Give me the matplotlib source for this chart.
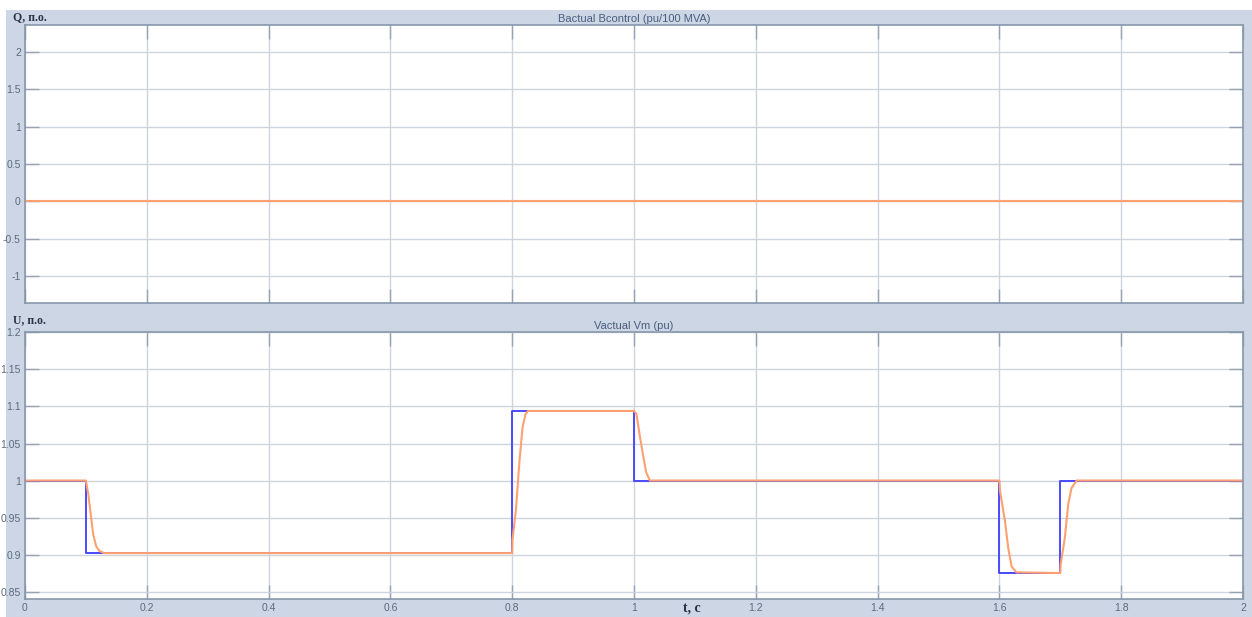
import matplotlib
matplotlib.use("Agg")
import matplotlib.pyplot as plt
from matplotlib.patches import Rectangle

# reference (blue) and measured (orange) signals
t_ref = [0.0, 0.1, 0.1, 0.8, 0.8, 1.0, 1.0, 1.6, 1.6, 1.7, 1.7, 2.0]
v_ref = [1.0, 1.0, 0.902, 0.902, 1.094, 1.094, 1.0, 1.0, 0.875, 0.875, 1.0, 1.0]

t_meas = [0.0, 0.100, 0.104, 0.108, 0.112, 0.117, 0.122, 0.130,
          0.800, 0.8005, 0.806, 0.812, 0.817, 0.822, 0.826, 0.830,
          1.000, 1.004, 1.009, 1.0145, 1.020, 1.026, 1.030,
          1.600, 1.601, 1.609, 1.6145, 1.620, 1.628,
          1.700, 1.7005, 1.7075, 1.713, 1.7185, 1.727, 2.0]
v_meas = [1.0, 1.0, 0.981, 0.954, 0.927, 0.911, 0.905, 0.902,
          0.902, 0.920, 0.959, 1.027, 1.072, 1.090, 1.094, 1.094,
          1.094, 1.090, 1.063, 1.036, 1.011, 1.0, 1.0,
          1.0, 0.986, 0.946, 0.909, 0.884, 0.876,
          0.875, 0.886, 0.923, 0.968, 0.990, 1.0, 1.0]

t_q = [0.0, 2.0]
b_actual = [0.0, 0.0]
b_control = [0.0, 0.0]

x_ticks = [0, 0.2, 0.4, 0.6, 0.8, 1, 1.2, 1.4, 1.6, 1.8, 2]
x_labels = ["0", "0.2", "0.4", "0.6", "0.8", "1", "1.2", "1.4", "1.6", "1.8", "2"]
q_ticks = [-1, -0.5, 0, 0.5, 1, 1.5, 2]
q_labels = ["-1", "-0.5", "0", "0.5", "1", "1.5", "2"]
u_ticks = [0.85, 0.9, 0.95, 1, 1.05, 1.1, 1.15, 1.2]
u_labels = ["0.85", "0.9", "0.95", "1", "1.05", "1.1", "1.15", "1.2"]

BLUE = "#4a4aff"
ORANGE = "#ffa070"
BG = "#cdd6e4"
GRID = "#cdd4df"
SPINE = "#8797ab"
TXT = "#5c6b80"
sans = ["Liberation Sans", "DejaVu Sans"]
serif = ["Liberation Serif", "DejaVu Serif"]

fig = plt.figure(figsize=(12.52, 6.17), dpi=100, facecolor=BG)
W, H = 1252, 617
# white margins on top and left
fig.patches.append(Rectangle((0, 1 - 10 / H), 1, 10 / H, transform=fig.transFigure,
                             facecolor="white", edgecolor="none", zorder=-1))
fig.patches.append(Rectangle((0, 0), 6 / W, 1, transform=fig.transFigure,
                             facecolor="white", edgecolor="none", zorder=-1))

left, width = 25 / W, (1243 - 25) / W
ax1 = fig.add_axes([left, 1 - 302.7 / H, width, (302.7 - 25) / H])
ax2 = fig.add_axes([left, 1 - 599 / H, width, (599 - 331.7) / H])


def style(ax, yticks, ylabels, ylim, show_x):
    ax.set_facecolor("white")
    ax.set_xlim(0, 2)
    ax.set_ylim(*ylim)
    ax.set_xticks(x_ticks)
    ax.set_xticklabels(x_labels if show_x else [])
    ax.set_yticks(yticks)
    ax.set_yticklabels(ylabels)
    for lab in ax.get_xticklabels() + ax.get_yticklabels():
        lab.set_family(sans)
    ax.grid(True, color=GRID, linewidth=1.0)
    ax.tick_params(direction="in", length=10, width=1, color="#98a3b2",
                   top=True, right=True, labelsize=7.5, labelcolor=TXT, pad=3)
    for s in ax.spines.values():
        s.set_color(SPINE)
        s.set_linewidth(1.2)
    ax.set_axisbelow(True)


ax1.plot(t_q, b_control, color=BLUE, linewidth=1.4)
ax1.plot(t_q, b_actual, color=ORANGE, linewidth=1.5)
style(ax1, q_ticks, q_labels, (-1.36, 2.36), False)
ax1.set_title("Bactual Bcontrol (pu/100 MVA)", fontsize=8, color="#4a5d80",
              pad=2, family=sans)

ax2.plot(t_ref, v_ref, color=BLUE, linewidth=1.4)
ax2.plot(t_meas, v_meas, color=ORANGE, linewidth=1.5)
style(ax2, u_ticks, u_labels, (0.840, 1.201), True)
ax2.set_title("Vactual Vm (pu)", fontsize=8, color="#4a5d80", pad=2, family=sans)

fig.text(13 / W, 1 - 17 / H, "Q, п.о.", fontsize=8.5, fontweight="bold",
         family=serif, color="#2a3345", va="center", ha="left")
fig.text(13 / W, 1 - 320 / H, "U, п.о.", fontsize=8.5, fontweight="bold",
         family=serif, color="#2a3345", va="center", ha="left")
fig.text(692 / W, 1 - 608 / H, "t, с", fontsize=10, fontweight="bold",
         family=serif, color="#2a3345", va="center", ha="center")

fig.savefig("out.png", dpi=100, facecolor=BG)
